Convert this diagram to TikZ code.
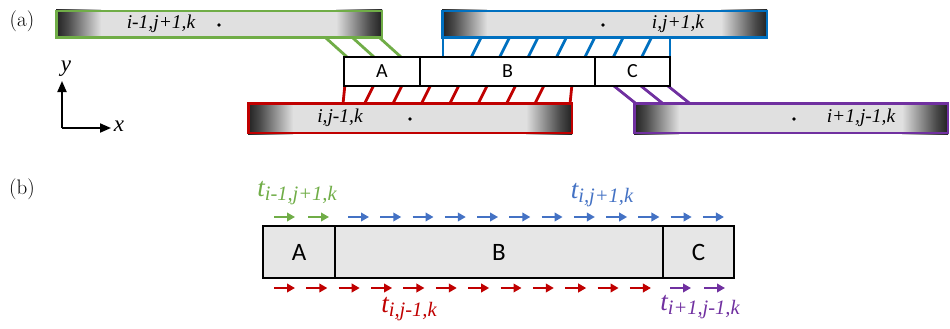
\documentclass[tikz,border=0pt]{standalone}
\usepackage{fontspec}
\newfontfamily\tnr{Liberation Serif}
\newfontfamily\cellfont{Carlito}
\usetikzlibrary{arrows.meta}

\definecolor{cgreen}{HTML}{70AD47}
\definecolor{cblue}{HTML}{0070C0}
\definecolor{cblueb}{HTML}{4472C4}
\definecolor{cred}{HTML}{C00000}
\definecolor{cpurple}{HTML}{7030A0}
\definecolor{barlight}{HTML}{E0E0E0}
\definecolor{bardark}{HTML}{222222}
\definecolor{barmid}{HTML}{4A4A4A}
\definecolor{boxgray}{HTML}{E6E6E6}

% darkened ends of a chain bar
\pgfdeclarehorizontalshading{fadeL}{100bp}{color(0bp)=(bardark); color(25bp)=(bardark); color(38bp)=(barmid); color(75bp)=(barlight); color(100bp)=(barlight)}
\pgfdeclarehorizontalshading{fadeR}{100bp}{color(0bp)=(barlight); color(25bp)=(barlight); color(62bp)=(barmid); color(75bp)=(bardark); color(100bp)=(bardark)}

\tikzset{
  barlabel/.style={font=\tnr\itshape\fontsize{19.5}{19.5}\selectfont, inner sep=0pt},
  dotmark/.style={circle, fill=black, inner sep=0pt, minimum size=3.6pt},
  cellA/.style={draw=black, line width=2pt, fill=white, inner sep=0pt, outer sep=0pt,
    minimum height=28pt, font=\cellfont\fontsize{20}{20}\selectfont},
  cellB/.style={draw=black, line width=1.2pt, fill=boxgray, inner sep=0pt, outer sep=0pt,
    minimum height=52pt, font=\cellfont\fontsize{25}{25}\selectfont},
  hatch/.style={line width=2.8pt},
  hop/.style={line width=2.4pt, -{Triangle[length=8pt,width=8.5pt]}},
  axisarrow/.style={line width=2pt, -{Triangle[length=11pt,width=9pt]}},
  tlabel/.style={font=\tnr\itshape, inner sep=0pt},
  panel/.style={font=\fontsize{21}{21}\selectfont, inner sep=0pt}
}

% a chain bar: #1 name, #2 colour, #3 left, #4 right, #5 top, #6 bottom
\newcommand\chainbar[6]{%
  \fill[barlight] (#3,#5) rectangle (#4,#6);
  \shade[shading=fadeL] ({#3+1},#5) rectangle ({#3+46},#6);
  \shade[shading=fadeR] ({#4-47},#5) rectangle ({#4-1},#6);
  \node[draw=#2, line width=2.5pt, inner sep=0pt,
        minimum width={#4-#3-2.5}, minimum height={#6-#5-2.5}]
        (#1) at ({(#3+#4)/2},{(#5+#6)/2}) {};
}
\newcommand\tlab[1]{{\fontsize{27}{27}\selectfont t}\raisebox{-4pt}{\fontsize{20.5}{20.5}\selectfont #1}}

\begin{document}
\begin{tikzpicture}[x=1pt,y=-1pt]
\useasboundingbox (0,0) rectangle (950,329);

% ---------------- panel (a) ----------------
\node[panel] (pa) at (22,21) {(a)};

% hopping bonds between the bars and the central row
\foreach \x in {327,354,381}
  \draw[hatch, cgreen] ({\x-2.2},37) -- ({\x+22.2},59);
\draw[hatch, cblue] (443,37) -- (443,59);
\draw[hatch, cblue] (670,37) -- (670,59);
\foreach \k in {1,...,7}
  \draw[hatch, cblue] ({443+28.4*\k+10},37) -- ({443+28.4*\k-1},59);
\draw[hatch, cred] (345,84) -- (343,104);
\draw[hatch, cred] (572,84) -- (570,104);
\foreach \k in {1,...,7}
  \draw[hatch, cred] ({345+28.4*\k+1},84) -- ({345+28.4*\k-9},104);
\foreach \x in {614,641,668}
  \draw[hatch, cpurple] ({\x-2.5},84) -- ({\x+22.5},104);

% neighbouring chains
\chainbar{gbar}{cgreen}{55}{383}{10}{39}
\chainbar{bbar}{cblue}{441}{768}{10}{39}
\chainbar{rbar}{cred}{247}{573}{102}{134}
\chainbar{pbar}{cpurple}{633}{949}{102}{134}

\node[barlabel] (gl) at (161,24) {i-1,j+1,k};
\node[dotmark] (gd) at (219,25) {};
\node[barlabel] (bl) at (678,24) {i,j+1,k};
\node[dotmark] (bd) at (603,25) {};
\node[barlabel] (rl) at (340,118) {i,j-1,k};
\node[dotmark] (rd) at (410,119) {};
\node[barlabel] (pl) at (861,118) {i+1,j-1,k};
\node[dotmark] (pd) at (794,119) {};

% central row of segments
\node[cellA, minimum width=76, anchor=north west] (aA) at (344,57.5) {A};
\node[cellA, minimum width=175, anchor=north west] (aB) at (aA.north east) {B};
\node[cellA, minimum width=75, anchor=north west] (aC) at (aB.north east) {C};

% axes
\coordinate (orig) at (62,128);
\coordinate (ytip) at (62,81);
\coordinate (xtip) at (111,128);
\draw[axisarrow] (orig) -- (ytip);
\draw[axisarrow] (orig) -- (xtip);
\node[font=\tnr\itshape\fontsize{23}{23}\selectfont, inner sep=0pt] (ylab) at (66,69) {y};
\node[font=\tnr\itshape\fontsize{23}{23}\selectfont, inner sep=0pt] (xlab) at (119,126) {x};

% ---------------- panel (b) ----------------
\node[panel] (pb) at (22,189) {(b)};

\node[cellB, minimum width=72, anchor=north west] (bA) at (263,226) {A};
\node[cellB, minimum width=328, anchor=north west] (bB) at (bA.north east) {B};
\node[cellB, minimum width=71, anchor=north west] (bC) at (bB.north east) {C};
\draw[line width=2pt] (bA.north west) rectangle (bC.south east);

% hopping directions above and below the row
\foreach \x in {274,308}
  \draw[hop, cgreen] (\x,217) -- ({\x+21},217);
\foreach \k in {0,...,11}
  \draw[hop, cblueb] ({348+32.27*\k},217) -- ({348+32.27*\k+21},217);
\foreach \k in {0,...,11}
  \draw[hop, cred] ({274+32.36*\k},288) -- ({274+32.36*\k+21},288);
\foreach \x in {670,704}
  \draw[hop, cpurple] (\x,288) -- ({\x+21},288);

\node[tlabel, text=cgreen] (tg) at (297,193) {\tlab{i-1,j+1,k}};
\node[tlabel, text=cblueb] (tb) at (602,195) {\tlab{i,j+1,k}};
\node[tlabel, text=cred] (tr) at (409,309) {\tlab{i,j-1,k}};
\node[tlabel, text=cpurple] (tp) at (700,307) {\tlab{i+1,j-1,k}};
\end{tikzpicture}
\end{document}
